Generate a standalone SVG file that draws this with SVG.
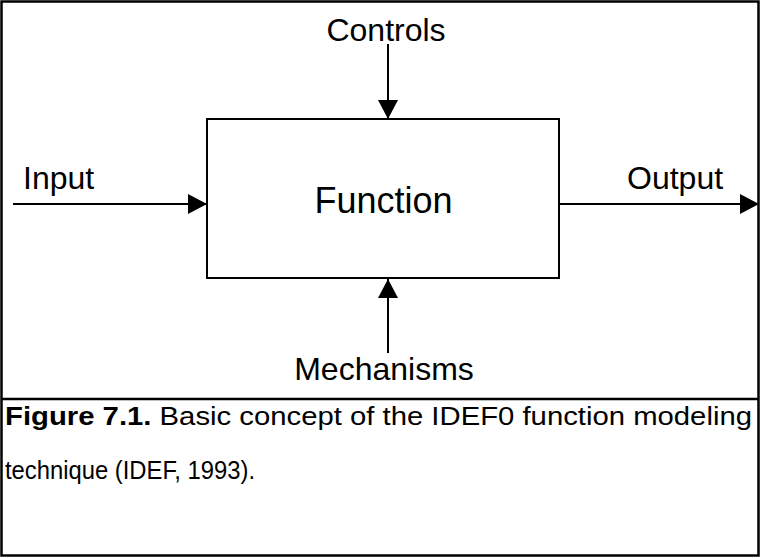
<svg xmlns="http://www.w3.org/2000/svg" width="761" height="558" viewBox="0 0 761 558">
<style>
.lbl{font-family:"Liberation Sans",Arial,sans-serif;font-size:32px;fill:#000}
.fn{font-family:"Liberation Sans",Arial,sans-serif;font-size:36px;fill:#000}
.cap{font-family:"Liberation Sans",Arial,sans-serif;font-size:25px;fill:#000}
.b{font-weight:bold}
.conn line{stroke:#000;stroke-width:2}
.frame{fill:none;stroke:#000;stroke-width:2.5}
</style>
<defs>
<marker id="ah" markerUnits="userSpaceOnUse" markerWidth="20" markerHeight="20" viewBox="0 0 19 20" refX="19" refY="10" orient="auto">
<polygon points="0,0 19,10 0,20" fill="#000"/>
</marker>
</defs>
<rect width="761" height="558" fill="#fff"/>
<rect class="frame" x="1.5" y="1.5" width="757" height="554"/>
<line x1="1.5" y1="399" x2="758.5" y2="399" stroke="#000" stroke-width="2.5"/>
<g id="function">
<rect x="207" y="119" width="352" height="159" fill="#fff" stroke="#000" stroke-width="2"/>
<text class="fn" x="383.5" y="213" text-anchor="middle">Function</text>
</g>
<g id="controls"><text class="lbl" x="386" y="41" text-anchor="middle">Controls</text></g>
<g id="input"><text class="lbl" x="23" y="189">Input</text></g>
<g id="output"><text class="lbl" x="627" y="189">Output</text></g>
<g id="mechanisms"><text class="lbl" x="384" y="380" text-anchor="middle">Mechanisms</text></g>
<g class="conn" id="connectors">
<line x1="388" y1="44" x2="388" y2="119" marker-end="url(#ah)"/>
<line x1="388" y1="353" x2="388" y2="279" marker-end="url(#ah)"/>
<line x1="13" y1="204" x2="207" y2="204" marker-end="url(#ah)"/>
<line x1="559" y1="204" x2="759" y2="204" marker-end="url(#ah)"/>
</g>
<g id="caption">
<text class="cap" x="5" y="425" textLength="747" lengthAdjust="spacingAndGlyphs"><tspan class="b">Figure 7.1.</tspan> Basic concept of the IDEF0 function modeling</text>
<text class="cap" x="5" y="479" textLength="250" lengthAdjust="spacingAndGlyphs">technique (IDEF, 1993).</text>
</g>
</svg>
